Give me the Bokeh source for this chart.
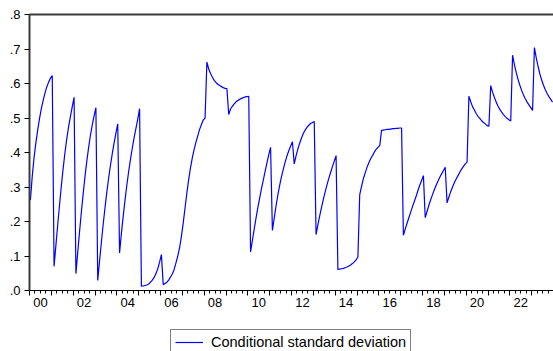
from bokeh.plotting import figure
from bokeh.layouts import column
from bokeh.models import (Range1d, FixedTicker, LinearAxis, Legend, LegendItem,
                          ColumnDataSource)
from bokeh.embed import file_html
from bokeh.resources import INLINE

# ---------------- data (monthly, 2000M01 .. 2023M12) ----------------
start_year = 2000
end_year = 2024
cond_sd = [
    0.262, 0.330, 0.385, 0.428, 0.465, 0.498, 0.527, 0.551, 0.572, 0.590, 0.604, 0.615,
    0.623, 0.070, 0.130, 0.190, 0.248, 0.303, 0.354, 0.400, 0.440, 0.475, 0.505, 0.533,
    0.560, 0.049, 0.110, 0.170, 0.227, 0.280, 0.330, 0.375, 0.415, 0.450, 0.480, 0.506,
    0.530, 0.029, 0.085, 0.140, 0.192, 0.240, 0.285, 0.326, 0.363, 0.397, 0.428, 0.456,
    0.483, 0.109, 0.165, 0.215, 0.262, 0.305, 0.345, 0.380, 0.413, 0.443, 0.470, 0.497,
    0.527, 0.0126, 0.013, 0.0145, 0.016, 0.019, 0.024, 0.030, 0.038, 0.049, 0.063, 0.082,
    0.104, 0.017, 0.020, 0.024, 0.030, 0.039, 0.048, 0.061, 0.080, 0.100, 0.124, 0.157,
    0.196, 0.240, 0.283, 0.322, 0.356, 0.385, 0.409, 0.430, 0.449, 0.467, 0.481, 0.494,
    0.500, 0.662, 0.642, 0.629, 0.618, 0.609, 0.603, 0.598, 0.594, 0.591, 0.588, 0.586,
    0.585, 0.510, 0.526, 0.534, 0.541, 0.547, 0.551, 0.554, 0.557, 0.559, 0.561, 0.562,
    0.563, 0.112, 0.145, 0.178, 0.210, 0.240, 0.268, 0.295, 0.320, 0.345, 0.370, 0.393,
    0.415, 0.174, 0.210, 0.245, 0.277, 0.305, 0.330, 0.352, 0.372, 0.390, 0.405, 0.418,
    0.431, 0.367, 0.390, 0.410, 0.427, 0.442, 0.455, 0.465, 0.473, 0.479, 0.484, 0.487,
    0.490, 0.162, 0.190, 0.216, 0.241, 0.264, 0.286, 0.306, 0.325, 0.342, 0.359, 0.375,
    0.391, 0.061, 0.062, 0.063, 0.064, 0.066, 0.068, 0.071, 0.074, 0.078, 0.083, 0.089,
    0.097, 0.278, 0.302, 0.324, 0.341, 0.357, 0.370, 0.382, 0.391, 0.401, 0.409, 0.415,
    0.420, 0.464, 0.465, 0.466, 0.467, 0.467, 0.468, 0.469, 0.469, 0.470, 0.470, 0.471,
    0.471, 0.160, 0.178, 0.195, 0.211, 0.227, 0.243, 0.258, 0.273, 0.290, 0.305, 0.319,
    0.333, 0.211, 0.229, 0.247, 0.263, 0.278, 0.292, 0.305, 0.317, 0.328, 0.338, 0.348,
    0.357, 0.254, 0.271, 0.286, 0.300, 0.312, 0.323, 0.333, 0.343, 0.352, 0.360, 0.367,
    0.372, 0.563, 0.547, 0.533, 0.523, 0.513, 0.505, 0.499, 0.492, 0.487, 0.483, 0.478,
    0.476, 0.594, 0.575, 0.560, 0.546, 0.535, 0.525, 0.517, 0.510, 0.504, 0.499, 0.495,
    0.491, 0.682, 0.655, 0.632, 0.612, 0.595, 0.580, 0.567, 0.556, 0.546, 0.538, 0.530,
    0.522, 0.704, 0.675, 0.650, 0.628, 0.610, 0.595, 0.582, 0.571, 0.562, 0.554, 0.546,
]
x_label_years = [2000, 2002, 2004, 2006, 2008, 2010, 2012, 2014, 2016, 2018, 2020, 2022]
x_tick_labels = ["00", "02", "04", "06", "08", "10", "12", "14", "16", "18", "20", "22"]
y_ticks = [0.0, 0.1, 0.2, 0.3, 0.4, 0.5, 0.6, 0.7, 0.8]
y_tick_labels = [".0", ".1", ".2", ".3", ".4", ".5", ".6", ".7", ".8"]
legend_label = "Conditional standard deviation"

FONT = "Liberation Sans"
LINE_COLOR = "#0000FF"

x_vals = [start_year + (i + 0.5) / 12 for i in range(len(cond_sd))]
src = ColumnDataSource(dict(x=x_vals, y=cond_sd))

# ---------------- main chart ----------------
p = figure(width=553, height=314, output_backend="svg", toolbar_location=None,
           x_range=Range1d(start_year, end_year), y_range=Range1d(0, 0.8),
           x_axis_type=None, y_axis_type=None,
           min_border_left=29, min_border_right=0, min_border_top=14,
           min_border_bottom=24)
p.outline_line_color = None
p.background_fill_color = "white"
p.border_fill_color = "white"

r = p.line("x", "y", source=src, line_color=LINE_COLOR, line_width=1.2)

# y axis
yax = LinearAxis(ticker=FixedTicker(ticks=y_ticks, minor_ticks=[]))
yax.major_label_overrides = dict(zip(y_ticks, y_tick_labels))
yax.axis_line_color = "#3c3c3c"
yax.axis_line_width = 2
yax.major_tick_in = 0
yax.major_tick_out = 5
yax.major_tick_line_color = "black"
yax.minor_tick_line_color = None
yax.major_label_standoff = 4
yax.major_label_text_font = FONT
yax.major_label_text_font_size = "13px"
yax.major_label_text_color = "black"
p.add_layout(yax, "left")

# top border
top = LinearAxis(ticker=FixedTicker(ticks=[], minor_ticks=[]))
top.axis_line_color = "#3c3c3c"
top.axis_line_width = 2
top.major_tick_line_color = None
top.minor_tick_line_color = None
top.major_label_text_font_size = "0px"
top.major_label_standoff = 0
p.add_layout(top, "above")

# x axis: tick marks (years long, quarters short)
year_bounds = list(range(start_year, end_year + 1))
quarters = [y + q / 4 for y in range(start_year, end_year) for q in (1, 2, 3)]
xt = LinearAxis(ticker=FixedTicker(ticks=year_bounds, minor_ticks=quarters))
xt.major_label_overrides = {yb: "" for yb in year_bounds}
xt.axis_line_color = "black"
xt.axis_line_width = 1
xt.major_tick_in = 0
xt.major_tick_out = 5
xt.minor_tick_in = 0
xt.minor_tick_out = 3
xt.major_tick_line_color = "black"
xt.minor_tick_line_color = "black"
xt.major_label_text_font_size = "0px"
xt.major_label_standoff = 0
p.add_layout(xt, "below")

# x axis: labels centred in each labelled year
label_pos = [yr + 0.5 for yr in x_label_years]
xl = LinearAxis(ticker=FixedTicker(ticks=label_pos, minor_ticks=[]))
xl.major_label_overrides = dict(zip(label_pos, x_tick_labels))
xl.axis_line_color = None
xl.major_tick_line_color = None
xl.minor_tick_line_color = None
xl.major_tick_out = 0
xl.major_tick_in = 0
xl.major_label_standoff = 2
xl.major_label_text_font = FONT
xl.major_label_text_font_size = "13px"
xl.major_label_text_color = "black"
p.add_layout(xl, "below")

# ---------------- legend strip ----------------
p2 = figure(width=553, height=37, output_backend="svg", toolbar_location=None,
            x_range=Range1d(start_year, end_year), y_range=Range1d(2, 3),
            x_axis_type=None, y_axis_type=None,
            min_border_left=0, min_border_right=0, min_border_top=0,
            min_border_bottom=0)
p2.outline_line_color = None
p2.background_fill_color = "white"
p2.border_fill_color = "white"
r2 = p2.line("x", "y", source=src, line_color=LINE_COLOR, line_width=1.2)

legend = Legend(items=[LegendItem(label=legend_label, renderers=[r2])],
                location=(141, -4), orientation="horizontal",
                border_line_color="black", border_line_width=1,
                background_fill_color="white", background_fill_alpha=1,
                label_text_font=FONT, label_text_font_size="14.5px",
                label_text_color="black", label_height=16,
                glyph_width=28, glyph_height=16, label_standoff=8,
                padding=4, spacing=0, margin=0)
p2.add_layout(legend, "center")

page = column(p, p2, spacing=0)
open("out.html", "w").write(file_html(page, INLINE))
